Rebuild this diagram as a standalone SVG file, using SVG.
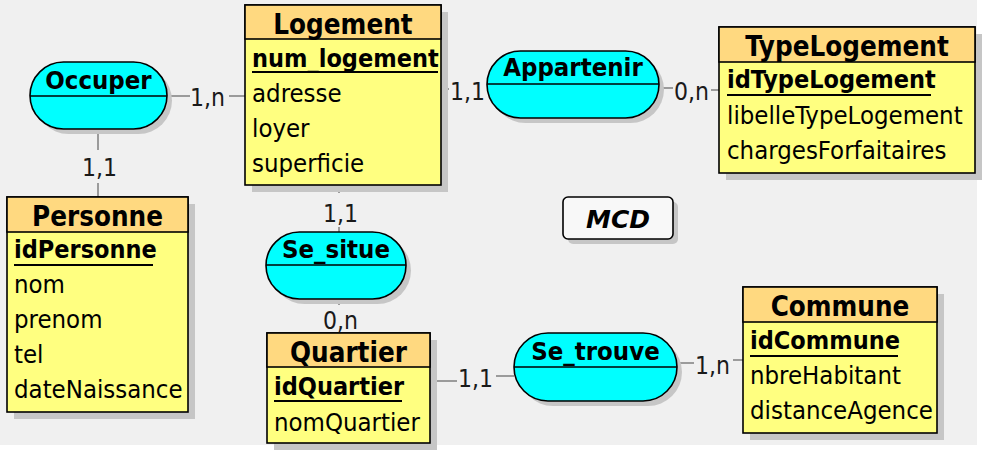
<svg xmlns="http://www.w3.org/2000/svg" width="986" height="454" viewBox="0 0 986 454">
<style>
.bg{fill:#f0f0f0}
.sh{fill:#c6c6c6}
.hd{fill:#ffd980;stroke:#000;stroke-width:1.6}
.bd{fill:#ffff80;stroke:#000;stroke-width:1.6}
.rel{fill:#00ffff;stroke:#000;stroke-width:1.6}
.div{stroke:#000;stroke-width:1.6}
.ul{stroke:#000;stroke-width:2}
.cn{stroke:#7f7f7f;stroke-width:1.5;fill:none}
text{font-family:"DejaVu Sans Condensed","DejaVu Sans","Liberation Sans",sans-serif;font-stretch:condensed;fill:#000}
.t{font-size:27.5px;font-weight:bold;text-anchor:middle}
.k{font-size:25px;font-weight:bold}
.a{font-size:25.5px}
.r{font-size:25.5px;font-weight:bold;text-anchor:middle}
.c{font-size:24.5px;fill:#1a1a1a}
.m{font-family:"DejaVu Sans",sans-serif;font-stretch:normal;font-size:25px;font-weight:bold;font-style:italic;text-anchor:middle}
</style>
<rect x="0" y="0" width="986" height="454" fill="#ffffff"/>
<rect class="bg" x="0" y="0" width="977" height="445"/>

<g id="connectors">
<line class="cn" x1="167" y1="96" x2="190" y2="96"/><line class="cn" x1="229" y1="96" x2="245" y2="96"/>
<text class="c" x="190" y="106">1,n</text>
<line class="cn" x1="98" y1="129" x2="98" y2="150"/><line class="cn" x1="98" y1="183" x2="98" y2="197"/>
<text class="c" x="82" y="176">1,1</text>
<line class="cn" x1="441" y1="89" x2="449" y2="89"/>
<text class="c" x="450" y="100">1,1</text>
<line class="cn" x1="659" y1="88" x2="673" y2="88"/><line class="cn" x1="711" y1="90" x2="719" y2="90"/>
<text class="c" x="674" y="100">0,n</text>
<line class="cn" x1="339" y1="185" x2="339" y2="193"/><line class="cn" x1="339" y1="227" x2="339" y2="232"/>
<text class="c" x="323" y="222">1,1</text>
<line class="cn" x1="339" y1="299" x2="339" y2="305"/>
<text class="c" x="323" y="329">0,n</text>
<line class="cn" x1="430" y1="381" x2="457" y2="381"/><line class="cn" x1="496" y1="376" x2="514" y2="376"/>
<text class="c" x="458" y="387">1,1</text>
<line class="cn" x1="677" y1="363" x2="694" y2="363"/><line class="cn" x1="733" y1="360" x2="743" y2="360"/>
<text class="c" x="695" y="374">1,n</text>
</g>

<g id="Logement">
<rect class="sh" x="252" y="12" width="196" height="180"/>
<rect class="bd" x="245" y="5" width="196" height="180"/>
<rect class="hd" x="245" y="5" width="196" height="34"/>
<text class="t" x="343" y="34">Logement</text>
<text class="k" x="252" y="67">num_logement</text>
<line class="ul" x1="252" y1="72" x2="438" y2="72"/>
<text class="a" x="252" y="102">adresse</text>
<text class="a" x="252" y="137">loyer</text>
<text class="a" x="252" y="172">superficie</text>
</g>

<g id="TypeLogement">
<rect class="sh" x="726" y="34" width="256" height="146"/>
<rect class="bd" x="719" y="27" width="256" height="146"/>
<rect class="hd" x="719" y="27" width="256" height="35"/>
<text class="t" x="847" y="56">TypeLogement</text>
<text class="k" x="727" y="88">idTypeLogement</text>
<line class="ul" x1="727" y1="95" x2="931" y2="95"/>
<text class="a" x="727" y="124">libelleTypeLogement</text>
<text class="a" x="727" y="159">chargesForfaitaires</text>
</g>

<g id="Personne">
<rect class="sh" x="14" y="204" width="181" height="215"/>
<rect class="bd" x="7" y="197" width="181" height="215"/>
<rect class="hd" x="7" y="197" width="181" height="35"/>
<text class="t" x="97.5" y="226">Personne</text>
<text class="k" x="14" y="258">idPersonne</text>
<line class="ul" x1="14" y1="265" x2="153" y2="265"/>
<text class="a" x="14" y="293">nom</text>
<text class="a" x="14" y="328">prenom</text>
<text class="a" x="14" y="363">tel</text>
<text class="a" x="14" y="398">dateNaissance</text>
</g>

<g id="Quartier">
<rect class="sh" x="274" y="340" width="163" height="110"/>
<rect class="bd" x="267" y="333" width="163" height="110"/>
<rect class="hd" x="267" y="333" width="163" height="34"/>
<text class="t" x="348.5" y="362">Quartier</text>
<text class="k" x="274" y="395">idQuartier</text>
<line class="ul" x1="274" y1="401" x2="402" y2="401"/>
<text class="a" x="274" y="431">nomQuartier</text>
</g>

<g id="Commune">
<rect class="sh" x="750" y="294" width="194" height="146"/>
<rect class="bd" x="743" y="287" width="194" height="146"/>
<rect class="hd" x="743" y="287" width="194" height="35"/>
<text class="t" x="840" y="316">Commune</text>
<text class="k" x="750" y="349">idCommune</text>
<line class="ul" x1="750" y1="356" x2="898" y2="356"/>
<text class="a" x="750" y="384">nbreHabitant</text>
<text class="a" x="750" y="419">distanceAgence</text>
</g>

<g id="Occuper">
<rect class="sh" x="35" y="67" width="137" height="67" rx="33.5"/>
<rect class="rel" x="30" y="62" width="137" height="67" rx="33.5"/>
<line class="div" x1="30" y1="96" x2="167" y2="96"/>
<text class="r" x="98.5" y="89">Occuper</text>
</g>

<g id="Appartenir">
<rect class="sh" x="492" y="56" width="172" height="67" rx="33.5"/>
<rect class="rel" x="487" y="51" width="172" height="67" rx="33.5"/>
<line class="div" x1="487" y1="84" x2="659" y2="84"/>
<text class="r" x="573" y="76">Appartenir</text>
</g>

<g id="Se_situe">
<rect class="sh" x="271" y="237" width="140" height="67" rx="33.5"/>
<rect class="rel" x="266" y="232" width="140" height="67" rx="33.5"/>
<line class="div" x1="266" y1="265" x2="406" y2="265"/>
<text class="r" x="336" y="258">Se_situe</text>
</g>

<g id="Se_trouve">
<rect class="sh" x="519" y="338" width="163" height="68" rx="34"/>
<rect class="rel" x="514" y="333" width="163" height="68" rx="34"/>
<line class="div" x1="514" y1="367" x2="677" y2="367"/>
<text class="r" x="595.5" y="360">Se_trouve</text>
</g>

<g id="MCD">
<rect class="sh" x="568" y="202" width="110" height="42" rx="5"/>
<rect x="563" y="197" width="110" height="42" rx="5" fill="#f8f8f8" stroke="#000" stroke-width="1.6"/>
<text class="m" x="618" y="228">MCD</text>
</g>
</svg>
